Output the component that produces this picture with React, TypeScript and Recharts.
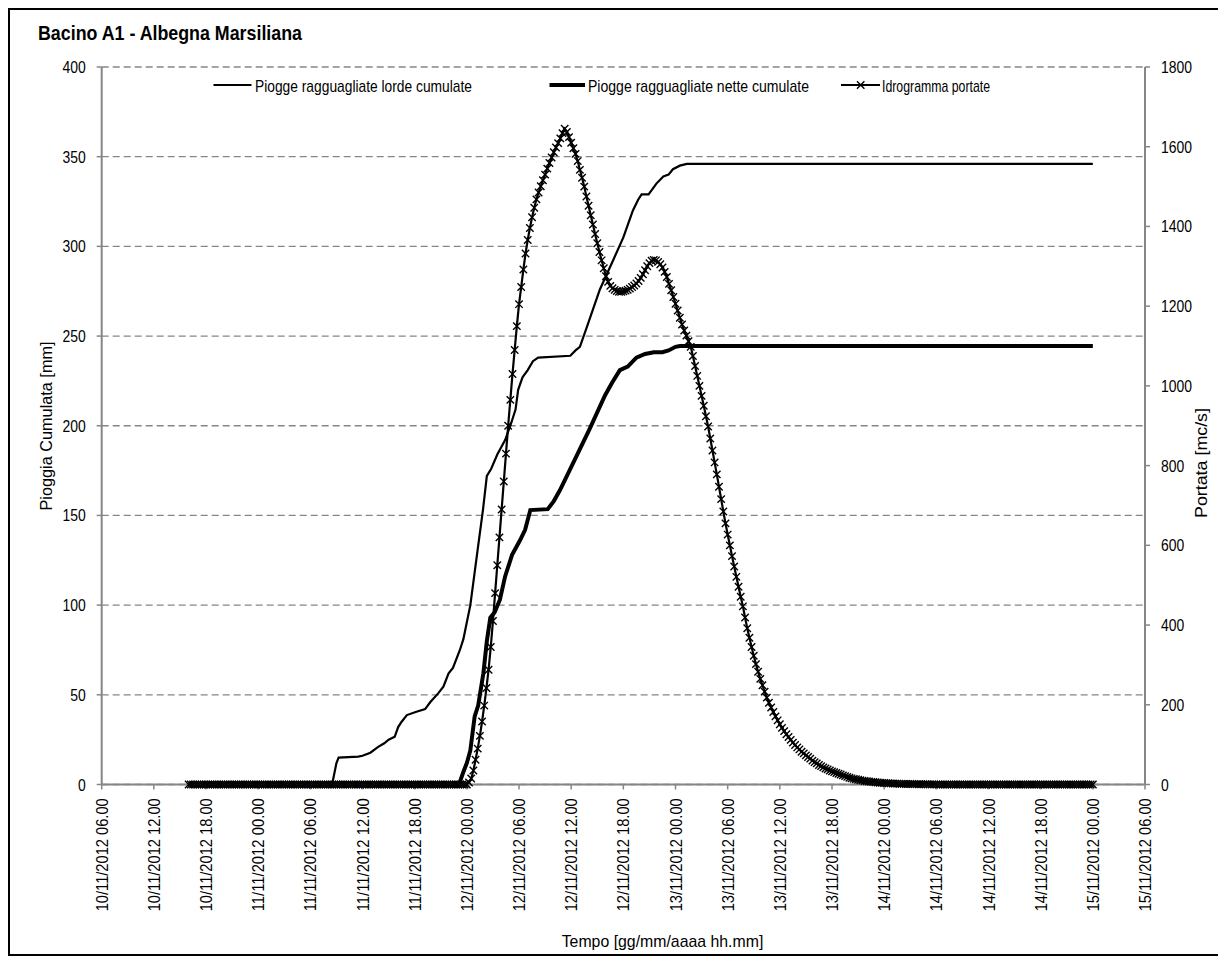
import React from 'react';
import { LineChart, Line, XAxis, YAxis, CartesianGrid } from 'recharts';

// ---------- axis ticks ----------
const xTicks = [6, 12, 18, 24, 30, 36, 42, 48, 54, 60, 66, 72, 78, 84, 90, 96, 102, 108, 114, 120, 126];
const xTickLabels = [
  '10/11/2012 06.00', '10/11/2012 12.00', '10/11/2012 18.00',
  '11/11/2012 00.00', '11/11/2012 06.00', '11/11/2012 12.00', '11/11/2012 18.00',
  '12/11/2012 00.00', '12/11/2012 06.00', '12/11/2012 12.00', '12/11/2012 18.00',
  '13/11/2012 00.00', '13/11/2012 06.00', '13/11/2012 12.00', '13/11/2012 18.00',
  '14/11/2012 00.00', '14/11/2012 06.00', '14/11/2012 12.00', '14/11/2012 18.00',
  '15/11/2012 00.00', '15/11/2012 06.00',
];
const leftTicks = [0, 50, 100, 150, 200, 250, 300, 350, 400];
const rightTicks = [0, 200, 400, 600, 800, 1000, 1200, 1400, 1600, 1800];

// ---------- series (time in hours from 10/11/2012 00:00) ----------
const grossTime = [16, 32.5, 33, 33.25, 35.5, 36, 36.9, 37.8, 38.5, 39, 39.7, 40.1, 40.5, 41.1, 42.2, 43.2, 43.8, 44.7, 45.3, 45.9, 46.4, 47.2, 47.6, 48.4, 49.3, 49.85, 50.3, 50.8, 51.5, 52.4, 53, 53.6, 53.9, 54.4, 55, 55.6, 56.2, 59.9, 60.5, 61, 61.8, 63.3, 64.8, 66, 67.1, 67.7, 68.1, 68.9, 69.8, 70.6, 71.2, 71.7, 72.5, 73.3, 120];
const grossValue = [0, 0, 12, 15, 15.5, 16, 17.7, 21, 23, 25, 26.6, 32, 35, 38.7, 40.6, 42, 46, 50.8, 54.5, 62, 65, 75, 81, 100, 133, 153, 172, 176, 184, 192, 200, 209, 220, 227, 231, 236, 238, 239, 242, 244, 255, 276, 292, 305, 320, 326, 329, 329, 335, 339, 340, 343, 345, 346, 346];

const netTime = [16, 47.1, 47.6, 48, 48.4, 48.9, 49.3, 49.9, 50.3, 50.7, 51.2, 51.8, 52.4, 53.2, 54.1, 54.7, 55.3, 57.3, 58, 58.7, 60.4, 62.1, 63.9, 64.7, 65.6, 66.5, 67.5, 68.5, 69.5, 70.5, 71.2, 72, 72.5, 120];
const netValue = [0, 0, 7, 12, 19, 38, 44, 62, 80, 93, 96, 103, 116, 128, 136, 142, 153, 153.5, 158, 164, 181, 198, 217, 224, 231, 233, 238, 240, 241, 241, 242, 244, 244.5, 244.5];

// hydrograph: one value every 15 minutes from 10/11 16:00 to 15/11 00:00
const hydroStart = 16;
const hydroStep = 0.25;
const hydroValue = [
  // 16:00 .. 47:45 (zeros)
  0, 0, 0, 0, 0, 0, 0, 0, 0, 0, 0, 0, 0, 0, 0, 0,
  0, 0, 0, 0, 0, 0, 0, 0, 0, 0, 0, 0, 0, 0, 0, 0,
  0, 0, 0, 0, 0, 0, 0, 0, 0, 0, 0, 0, 0, 0, 0, 0,
  0, 0, 0, 0, 0, 0, 0, 0, 0, 0, 0, 0, 0, 0, 0, 0,
  0, 0, 0, 0, 0, 0, 0, 0, 0, 0, 0, 0, 0, 0, 0, 0,
  0, 0, 0, 0, 0, 0, 0, 0, 0, 0, 0, 0, 0, 0, 0, 0,
  0, 0, 0, 0, 0, 0, 0, 0, 0, 0, 0, 0, 0, 0, 0, 0,
  0, 0, 0, 0, 0, 0, 0, 0, 0, 0, 0, 0, 0, 0, 0, 0,
  // 48
  0, 5, 15, 35,
  62, 90, 122, 158,
  198, 242, 288, 345,
  410, 480, 550, 620,
  690, 760, 830, 900,
  965, 1030, 1090, 1150,
  1205, 1248, 1292, 1332,
  1366, 1396, 1423, 1447,
  1468, 1485, 1501, 1516,
  1530, 1545, 1559, 1573,
  1586, 1598, 1609, 1621,
  1634, 1645, 1637, 1624,
  // 60
  1610, 1596, 1582, 1564,
  1542, 1522, 1500, 1475,
  1452, 1428, 1405, 1381,
  1358, 1336, 1315, 1295,
  1275, 1261, 1251, 1245,
  1241, 1238, 1236, 1236,
  1237, 1239, 1241, 1244,
  1248, 1252, 1257, 1263,
  1271, 1280, 1290, 1300,
  1308, 1314, 1316, 1315,
  1311, 1305, 1297, 1286,
  1273, 1256, 1240, 1223,
  // 72
  1206, 1189, 1171, 1154,
  1139, 1126, 1112, 1098,
  1075, 1050, 1025, 1000,
  975, 950, 924, 898,
  868, 838, 808, 778,
  747, 716, 685, 655,
  627, 600, 573, 547,
  521, 496, 471, 447,
  419, 392, 368, 345,
  323, 302, 283, 265,
  249, 233, 218, 205,
  193, 182, 171, 161,
  // 84
  151, 142, 134, 126,
  119, 112, 105, 99,
  93, 88, 82, 78,
  73, 69, 65, 60,
  56, 53, 49, 46,
  43, 40, 38, 35,
  33, 31, 29, 27,
  25, 23, 21, 19,
  17, 15.5, 14, 13,
  12, 10.8, 9.8, 8.9,
  8.1, 7.4, 6.7, 6.1,
  5.5, 5, 4.5, 4.1,
  // 96
  3.7, 3.4, 3.1, 2.8,
  2.5, 2.3, 2.1, 1.9,
  1.7, 1.5, 1.4, 1.3,
  1.2, 1.1, 1, 0.9,
  0.8, 0.7, 0.6, 0.5,
  0.5, 0.4, 0.4, 0.3,
  // 102 .. 120 (zeros)
  0, 0, 0, 0, 0, 0, 0, 0, 0, 0, 0, 0, 0, 0, 0, 0,
  0, 0, 0, 0, 0, 0, 0, 0, 0, 0, 0, 0, 0, 0, 0, 0,
  0, 0, 0, 0, 0, 0, 0, 0, 0, 0, 0, 0, 0, 0, 0, 0,
  0, 0, 0, 0, 0, 0, 0, 0, 0, 0, 0, 0, 0, 0, 0, 0,
  0, 0, 0, 0, 0, 0, 0, 0,
  0,
];

const grossData = grossTime.map((t, i) => ({ t, v: grossValue[i] }));
const netData = netTime.map((t, i) => ({ t, v: netValue[i] }));
const hydroData = hydroValue.map((v, i) => ({ t: hydroStart + i * hydroStep, v }));

// ---------- text helpers ----------
const FONT = "'Liberation Sans Narrow', 'Liberation Sans', Arial, sans-serif";
const MFONT = "'Liberation Sans', Arial, sans-serif";
let ctx: any = null;
function nl(s: string, size: number, bold = false, k = 0.82) {
  if (!ctx) ctx = document.createElement('canvas').getContext('2d');
  ctx.font = `${bold ? 'bold ' : ''}${size}px ${MFONT}`;
  return ctx.measureText(s).width * k;
}

const AXIS = '#868686';

const LeftTick = (props: any) => {
  const { x, y, payload } = props;
  const s = String(payload.value);
  return (
    <text x={x} y={y} dy={6} textAnchor="end" fontSize={17} fontFamily={FONT} fill="#000"
      textLength={nl(s, 17)} lengthAdjust="spacingAndGlyphs">{s}</text>
  );
};
const RightTick = (props: any) => {
  const { x, y, payload } = props;
  const s = String(payload.value);
  return (
    <text x={x} y={y} dy={6} textAnchor="start" fontSize={17} fontFamily={FONT} fill="#000"
      textLength={nl(s, 17)} lengthAdjust="spacingAndGlyphs">{s}</text>
  );
};
const BottomTick = (props: any) => {
  const { x, y, payload } = props;
  const idx = xTicks.indexOf(payload.value);
  const s = xTickLabels[idx] ?? '';
  const top = y + 8.8;
  return (
    <text x={0} y={0} transform={`translate(${x},${top}) rotate(-90)`} dy="0.36em" textAnchor="end"
      fontSize={17} fontFamily={FONT} fill="#000" textLength={113} lengthAdjust="spacingAndGlyphs">{s}</text>
  );
};

const XDot = (props: any) => {
  const { cx, cy, index } = props;
  if (cx == null || cy == null) return <g key={`x${index}`} />;
  const r = 3.7;
  return (
    <path key={`x${index}`} d={`M${cx - r},${cy - r}L${cx + r},${cy + r}M${cx - r},${cy + r}L${cx + r},${cy - r}`}
      stroke="#000" strokeWidth={1.4} fill="none" />
  );
};

export default function App() {
  // overlay coordinates are page coordinates minus 10
  const o = (v: number) => v - 10;
  return (
    <div style={{ position: 'relative', width: 1212, height: 948, border: '2px solid #000', boxSizing: 'border-box', background: '#fff' }}>
      <LineChart width={1208} height={944} margin={{ top: 57, right: 0, bottom: 0, left: 0 }}>
        <CartesianGrid yAxisId="left" vertical={false} stroke={AXIS} strokeDasharray="7 4" strokeWidth={1.3} />
        <XAxis dataKey="t" type="number" domain={[6, 126]} ticks={xTicks} interval={0} height={169.5}
          axisLine={{ stroke: AXIS, strokeWidth: 2 }} tickLine={{ stroke: AXIS, strokeWidth: 1.5 }} tickSize={5} tickMargin={0}
          tick={<BottomTick />} allowDataOverflow />
        <YAxis yAxisId="left" orientation="left" domain={[0, 400]} ticks={leftTicks} interval={0} width={91.7}
          axisLine={{ stroke: AXIS, strokeWidth: 2 }} tickLine={{ stroke: AXIS, strokeWidth: 1.5 }} tickSize={5} tickMargin={11}
          tick={<LeftTick />} />
        <YAxis yAxisId="right" orientation="right" domain={[0, 1800]} ticks={rightTicks} interval={0} width={73}
          axisLine={{ stroke: AXIS, strokeWidth: 2 }} tickLine={{ stroke: AXIS, strokeWidth: 1.5 }} tickSize={5} tickMargin={11}
          tick={<RightTick />} />
        <Line yAxisId="left" data={grossData} dataKey="v" type="linear" stroke="#000" strokeWidth={2.2} dot={false} isAnimationActive={false} />
        <Line yAxisId="left" data={netData} dataKey="v" type="linear" stroke="#000" strokeWidth={4} dot={false} isAnimationActive={false} />
        <Line yAxisId="right" data={hydroData} dataKey="v" type="linear" stroke="#000" strokeWidth={2.2} dot={<XDot />} isAnimationActive={false} />
      </LineChart>
      <svg width={1208} height={944} style={{ position: 'absolute', left: 0, top: 0, pointerEvents: 'none' }}>
        {/* title */}
        <text x={o(38)} y={o(40)} fontSize={21} fontWeight="bold" fontFamily={FONT} fill="#000"
          textLength={264} lengthAdjust="spacingAndGlyphs">Bacino A1 - Albegna Marsiliana</text>
        {/* legend */}
        <line x1={o(213.5)} x2={o(251.5)} y1={o(85)} y2={o(85)} stroke="#000" strokeWidth={2.2} />
        <text x={o(255)} y={o(91.7)} fontSize={17} fontFamily={FONT} fill="#000" textLength={217} lengthAdjust="spacingAndGlyphs">Piogge ragguagliate lorde cumulate</text>
        <line x1={o(549.5)} x2={o(585)} y1={o(85)} y2={o(85)} stroke="#000" strokeWidth={4} />
        <text x={o(588)} y={o(91.7)} fontSize={17} fontFamily={FONT} fill="#000" textLength={221} lengthAdjust="spacingAndGlyphs">Piogge ragguagliate nette cumulate</text>
        <line x1={o(841)} x2={o(880)} y1={o(85)} y2={o(85)} stroke="#000" strokeWidth={2.2} />
        <path d={`M${o(857)},${o(81.3)}L${o(864.4)},${o(88.7)}M${o(857)},${o(88.7)}L${o(864.4)},${o(81.3)}`} stroke="#000" strokeWidth={1.4} />
        <text x={o(882)} y={o(91.7)} fontSize={17} fontFamily={FONT} fill="#000" textLength={108} lengthAdjust="spacingAndGlyphs">Idrogramma portate</text>
        {/* axis titles */}
        <text x={0} y={0} transform={`translate(${o(46)},${o(426)}) rotate(-90)`} dy="0.36em" textAnchor="middle" fontSize={17} fontFamily={FONT} fill="#000"
          textLength={169} lengthAdjust="spacingAndGlyphs">Pioggia Cumulata [mm]</text>
        <text x={0} y={0} transform={`translate(${o(1201)},${o(463)}) rotate(-90)`} dy="0.36em" textAnchor="middle" fontSize={17} fontFamily={FONT} fill="#000"
          textLength={110} lengthAdjust="spacingAndGlyphs">Portata [mc/s]</text>
        <text x={o(561.7)} y={o(947)} fontSize={17} fontFamily={FONT} fill="#000" textLength={201.6} lengthAdjust="spacingAndGlyphs">Tempo [gg/mm/aaaa hh.mm]</text>
      </svg>
    </div>
  );
}
